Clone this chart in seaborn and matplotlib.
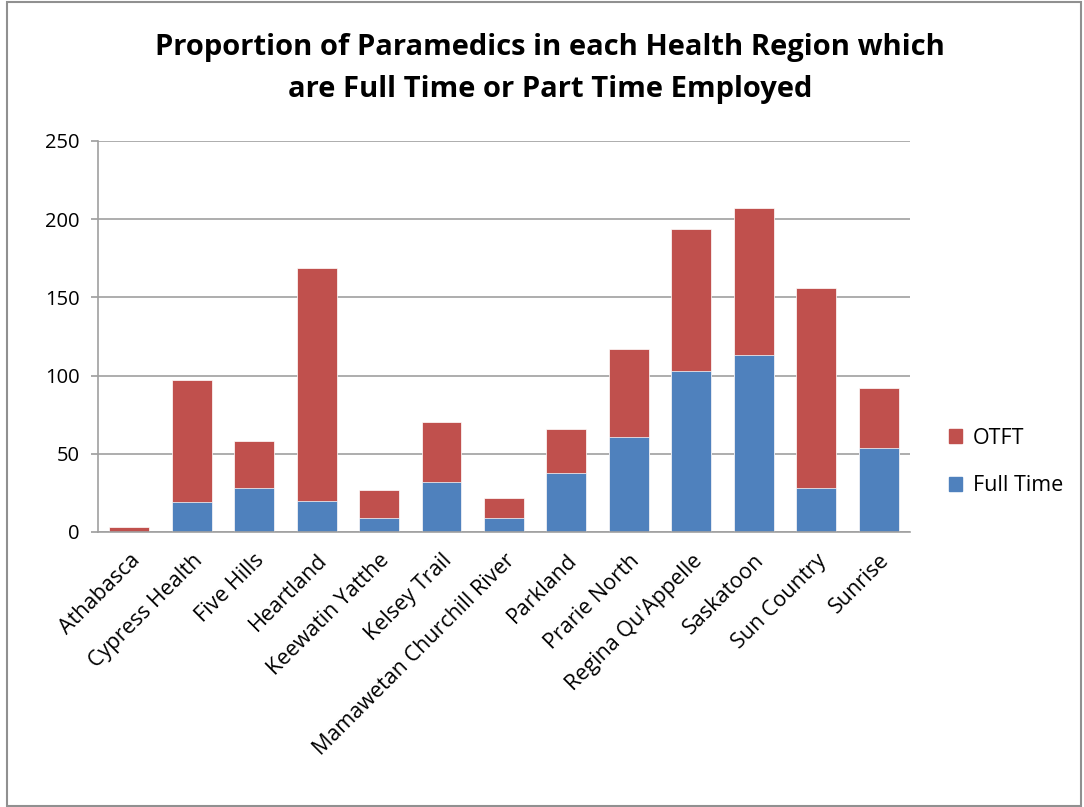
import matplotlib
matplotlib.use("Agg")
import matplotlib.pyplot as plt
import matplotlib.patches as mpatches
import seaborn as sns
import pandas as pd

regions = ["Athabasca", "Cypress Health", "Five Hills", "Heartland", "Keewatin Yatthe",
           "Kelsey Trail", "Mamawetan Churchill River", "Parkland", "Prarie North",
           "Regina Qu'Appelle", "Saskatoon", "Sun Country", "Sunrise"]
full_time = [0, 19, 28, 20, 9, 32, 9, 38, 61, 103, 113, 28, 54]
otft = [3, 78, 30, 149, 18, 38, 13, 28, 56, 91, 94, 128, 38]
y_ticks = [0, 50, 100, 150, 200, 250]

df = pd.DataFrame({"Region": regions, "Full Time": full_time, "OTFT": otft})
df["Total"] = df["Full Time"] + df["OTFT"]

sns.set_theme(style="white")
plt.rcParams["font.family"] = ["Open Sans", "DejaVu Sans"]
plt.rcParams["text.color"] = "black"
plt.rcParams["xtick.color"] = "black"
plt.rcParams["ytick.color"] = "black"

red = "#C0504D"
blue = "#4F81BD"

fig = plt.figure(figsize=(10.84, 8.07), dpi=100)
ax = fig.add_axes([0.0904, 0.3408, 0.749, 0.4845])

sns.barplot(data=df, x="Region", y="Total", color=red, width=0.64, ax=ax,
            edgecolor="white", linewidth=0.5, saturation=1)
sns.barplot(data=df, x="Region", y="Full Time", color=blue, width=0.64, ax=ax,
            edgecolor="white", linewidth=0.5, saturation=1)

ax.set_ylim(0, 250)
ax.set_xlim(-0.5, len(regions) - 0.5)
ax.set_yticks(y_ticks)
ax.yaxis.grid(True, color="#A0A0A0", linewidth=1.2)
ax.set_axisbelow(True)
ax.set_xlabel("")
ax.set_ylabel("")
for s in ["top", "right"]:
    ax.spines[s].set_visible(False)
for s in ["left", "bottom"]:
    ax.spines[s].set_color("#A0A0A0")
    ax.spines[s].set_linewidth(1.2)
ax.tick_params(axis="y", which="both", left=True, length=5, color="#A0A0A0",
               labelcolor="black", labelsize=14.5, pad=8)
ax.tick_params(axis="x", bottom=False, labelcolor="black", labelsize=15.5, pad=7)
plt.setp(ax.get_xticklabels(), rotation=45, ha="right", rotation_mode="anchor")

ax.set_title("Proportion of Paramedics in each Health Region which\nare Full Time or Part Time Employed",
             fontsize=21, fontweight="bold", pad=32, linespacing=1.55, x=0.557,
             color="black")

handles = [mpatches.Patch(color=red, label="OTFT"), mpatches.Patch(color=blue, label="Full Time")]
fig.legend(handles=handles, loc="center left", bbox_to_anchor=(0.858, 0.4275),
           frameon=False, fontsize=15.5, handlelength=0.6, handleheight=0.6,
           labelspacing=1.25, handletextpad=0.5, labelcolor="black")

fig.patches.append(mpatches.Rectangle((0.006, 0.001), 0.991, 0.997, transform=fig.transFigure,
                                      fill=False, edgecolor="#909090", linewidth=1.5))

fig.savefig("out.png", dpi=100)
